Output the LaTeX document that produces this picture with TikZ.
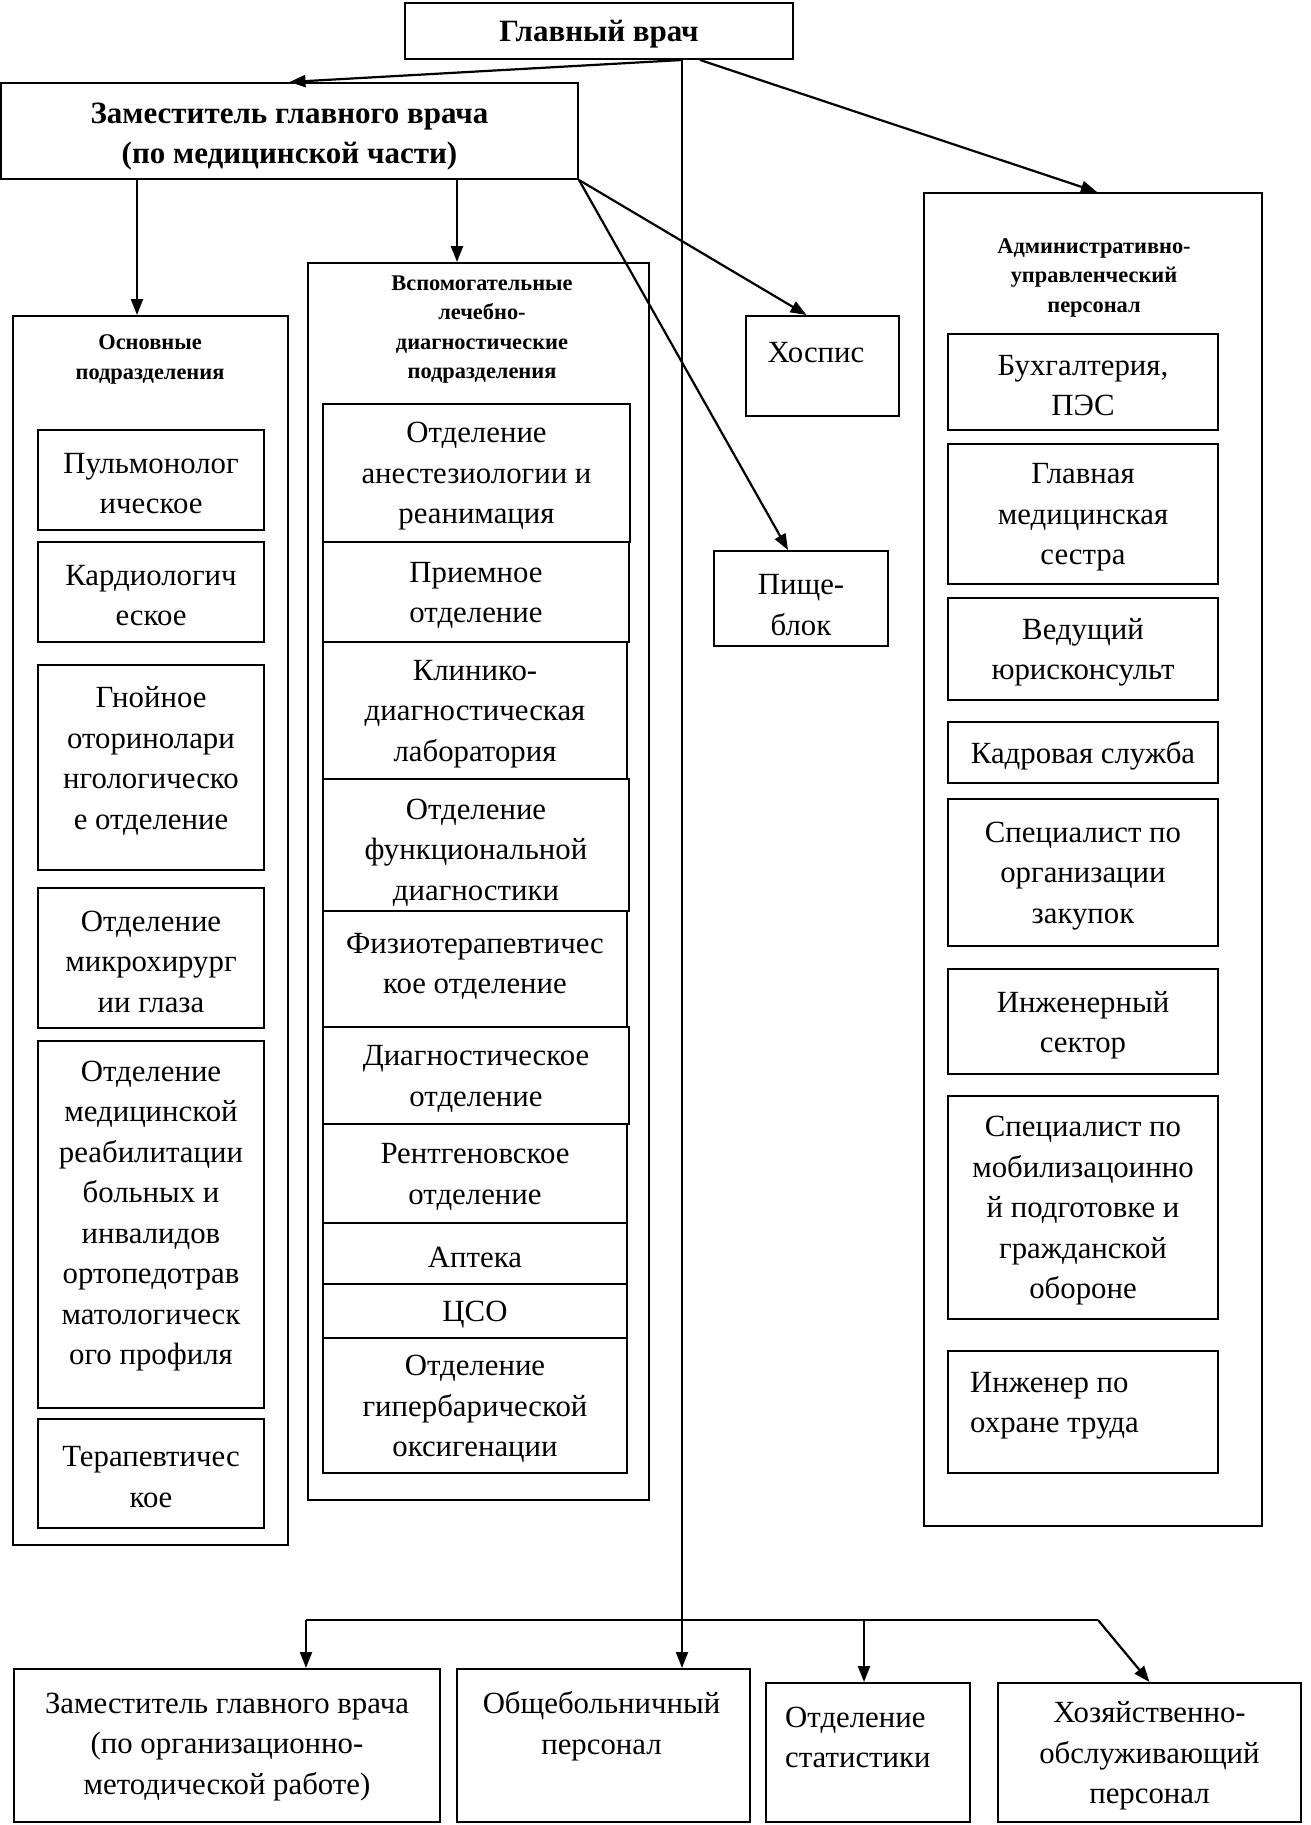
\documentclass[tikz,border=0pt]{standalone}
\usepackage{fontspec}
\setmainfont{Liberation Serif}
\usetikzlibrary{arrows.meta,fit,calc}
\newcommand\bodyfont{\fontsize{30.8}{40.5}\selectfont}
\newcommand\hdrfont{\bfseries\fontsize{22.4}{29.5}\selectfont}
\newcommand\bigbold{\bfseries\fontsize{31}{40}\selectfont}
% box: name, x1,y1,x2,y2, text ; optional text offset
\newcommand\B[7][0,0]{%
  \node[box, fit={(#3,#4) (#5,#6)}] (#2) {};
  \node[txt] (#2t) at ($(#2.center)+(#1)$) {#7};}
\begin{document}
\begin{tikzpicture}[x=1pt,y=-1pt,
  box/.style={draw, line width=2pt, inner sep=0pt},
  txt/.style={align=center, font=\bodyfont, inner sep=0pt, yshift=-3.5pt},
  hdr/.style={align=center, font=\hdrfont, inner sep=0pt, yshift=-2.5pt},
  arr/.style={line width=2.2pt, -{Triangle[length=16pt,width=12pt]}},
  ln/.style={line width=2.2pt}]
\useasboundingbox (0,0) rectangle (1310,1825);

% top
\node[box, fit={(405,3) (793,59)}] (gv) {};
\node[txt, font=\bigbold] (gvt) at (gv.center) {Главный врач};
\node[box, fit={(1,83) (578,179)}] (zam) {};
\node[txt, font=\bigbold] (zamt) at ($(zam.center)+(0,2)$) {Заместитель главного врача\\(по медицинской части)};

% containers
\node[box, fit={(13,316) (288,1545)}] (osn) {};
\node[hdr] (osnt) at (150,357) {Основные\\подразделения};
\node[box, fit={(308,263) (649,1500)}] (vsp) {};
\node[hdr] (vspt) at (482,327) {Вспомогательные\\лечебно-\\диагностические\\подразделения};
\node[box, fit={(924,193) (1262,1526)}] (adm) {};
\node[hdr] (admt) at (1094,275) {Административно-\\управленческий\\персонал};

% main departments
\B{o1}{38}{430}{264}{530}{Пульмонолог\\ическое}
\B{o2}{38}{542}{264}{642}{Кардиологич\\еское}
\B[0,-10]{o3}{38}{665}{264}{870}{Гнойное\\оторинолари\\нгологическо\\е отделение}
\B{o4}{38}{888}{264}{1028}{Отделение\\микрохирург\\ии глаза}
\B[0,-12]{o5}{38}{1041}{264}{1408}{Отделение\\медицинской\\реабилитации\\больных и\\инвалидов\\ортопедотрав\\матологическ\\ого профиля}
\B{o6}{38}{1419}{264}{1528}{Терапевтичес\\кое}

% auxiliary departments
\B{v1}{323}{404}{630}{542}{Отделение\\анестезиологии и\\реанимация}
\B{v2}{323}{542}{629}{642}{Приемное\\отделение}
\B{v3}{323}{642}{627}{779}{Клинико-\\диагностическая\\лаборатория}
\B[0,4]{v4}{323}{779}{629}{911}{Отделение\\функциональной\\диагностики}
\B[0,-6]{v5}{323}{911}{627}{1027}{Физиотерапевтичес\\кое отделение}
\B{v6}{323}{1027}{629}{1124}{Диагностическое\\отделение}
\B{v7}{323}{1124}{627}{1223}{Рентгеновское\\отделение}
\B{v8}{323}{1223}{627}{1284}{Аптека}
\B{v9}{323}{1284}{627}{1338}{ЦСО}
\B{v10}{323}{1338}{627}{1473}{Отделение\\гипербарической\\оксигенации}

% hospice, food block
\node[box, fit={(746,316) (899,416)}] (hos) {};
\node[txt] (host) at (816,349) {Хоспис};
\B[0,3]{pb}{714}{551}{888}{646}{Пище-\\блок}

% administrative
\B{a1}{948}{334}{1218}{430}{Бухгалтерия,\\ПЭС}
\B{a2}{948}{444}{1218}{584}{Главная\\медицинская\\сестра}
\B{a3}{948}{598}{1218}{700}{Ведущий\\юрисконсульт}
\B{a4}{948}{722}{1218}{783}{Кадровая служба}
\B{a5}{948}{799}{1218}{946}{Специалист по\\организации\\закупок}
\B{a6}{948}{969}{1218}{1074}{Инженерный\\сектор}
\B{a7}{948}{1096}{1218}{1319}{Специалист по\\мобилизацоинно\\й подготовке и\\гражданской\\обороне}
\node[box, fit={(948,1351) (1218,1473)}] (a8) {};
\node[txt, align=left, anchor=west] (a8t) at (970,1402) {Инженер по\\охране труда};

% bottom
\B[0,-2]{b1}{14}{1669}{440}{1822}{Заместитель главного врача\\(по организационно-\\методической работе)}
\B[-2,-23]{b2}{457}{1669}{750}{1822}{Общебольничный\\персонал}
\node[box, fit={(766,1683) (970,1822)}] (b3) {};
\node[txt, align=left, anchor=west] (b3t) at (785,1734) {Отделение\\статистики};
\B{b4}{998}{1683}{1301}{1822}{Хозяйственно-\\обслуживающий\\персонал}

% connectors
\draw[arr] ([xshift=83]gv.south) -- (zam.north);
\draw[arr] ([xshift=101]gv.south) -- ([xshift=4]adm.north);
\draw[arr] ([xshift=83]gv.south) -- ([xshift=78.5]b2.north);
\draw[arr] ([xshift=137]zam.south west) -- ([xshift=137]zam.south west |- osn.north);
\draw[arr] ([xshift=457]zam.south west) -- ([xshift=457]zam.south west |- vsp.north);
\draw[arr] (zam.south east) -- ([xshift=-16]hos.north);
\draw[arr] (zam.south east) -- ([xshift=-13]pb.north);

\coordinate (busL) at (306,1620);
\coordinate (busM) at (864,1620);
\coordinate (busR) at (1098,1620);
\draw[ln] (busL) -- (busR);
\draw[arr] (busL) -- (busL |- b1.north);
\draw[arr] (busM) -- (busM |- b3.north);
\draw[arr] (busR) -- (b4.north);
\end{tikzpicture}
\end{document}
